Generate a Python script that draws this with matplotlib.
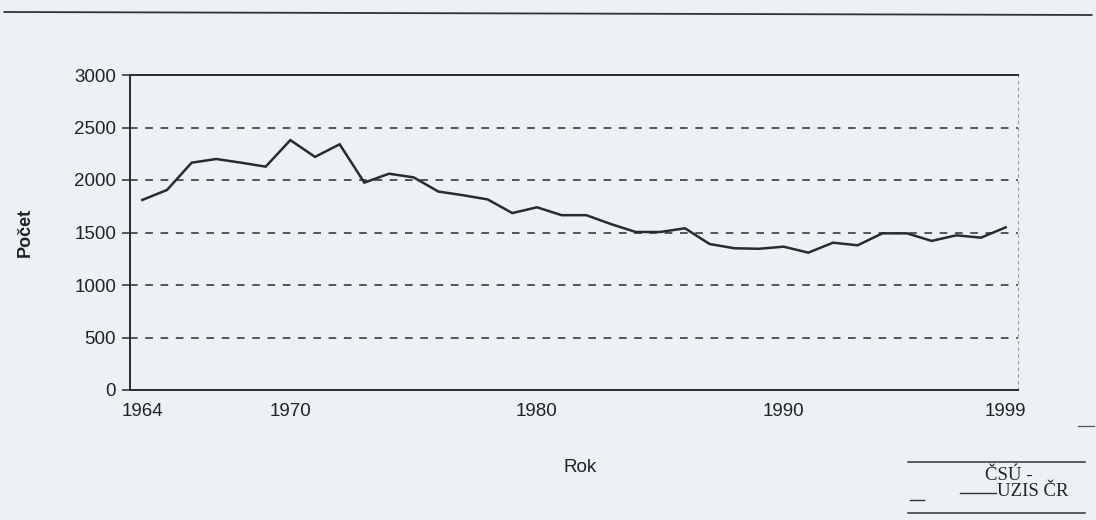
import matplotlib
matplotlib.use("Agg")
import matplotlib.pyplot as plt
from matplotlib.lines import Line2D

years = list(range(1964, 2000))
counts = [1810, 1905, 2165, 2200, 2165, 2127, 2380, 2220, 2340, 1975,
          2060, 2025, 1890, 1855, 1815, 1685, 1740, 1665, 1665, 1580,
          1505, 1505, 1540, 1390, 1350, 1345, 1365, 1308, 1403, 1378,
          1492, 1492, 1420, 1473, 1451, 1549]
xticks = [1964, 1970, 1980, 1990, 1999]
yticks = [0, 500, 1000, 1500, 2000, 2500, 3000]
xlabel = "Rok"
ylabel = "Počet"
source_lines = ["ČSÚ -", "UZIS ČR"]

bg = "#edf0f4"
ink = "#2b2b2b"
plt.rcParams['font.family'] = ['Liberation Sans', 'DejaVu Sans']

fig = plt.figure(figsize=(10.96, 5.2), dpi=100, facecolor=bg)
ax = fig.add_axes([130/1096, 1-390/520, 888/1096, 315/520], facecolor=bg)

ax.plot(years, counts, color=ink, lw=1.8, solid_joinstyle='miter')
ax.set_xlim(1963.5, 1999.5)
ax.set_ylim(0, 3000)
ax.set_yticks(yticks)
ax.set_xticks(xticks)
for y in yticks[1:-1]:
    ax.axhline(y, color=ink, lw=1.1, ls=(0, (5, 5)))
ax.tick_params(axis='y', length=6, width=1.1, color=ink, labelsize=13.5, labelcolor='#222222', pad=4)
ax.tick_params(axis='x', length=0, labelsize=13.5, labelcolor='#222222', pad=9)
for s in ['top', 'bottom', 'left']:
    ax.spines[s].set_color(ink)
    ax.spines[s].set_linewidth(1.4)
ax.spines['right'].set_color('#9a9a9a')
ax.spines['right'].set_linewidth(0.8)
ax.spines['right'].set_linestyle((0, (2, 4)))

fig.text(25/1096, 1-232/520, ylabel, rotation=90, ha='center', va='center',
         fontsize=13, fontweight='bold', color='#222222')
fig.text(580/1096, 1-468/520, xlabel, ha='center', va='center',
         fontsize=13.5, color='#222222')

# top rule of page
fig.add_artist(Line2D([0.004, 0.996], [1-12/520, 1-15/520], color='#333333', lw=1.3))

# source box
fig.add_artist(Line2D([908/1096, 1085/1096], [1-462/520]*2, color='#333333', lw=1.1))
fig.add_artist(Line2D([908/1096, 1085/1096], [1-513/520]*2, color='#333333', lw=1.1))
fig.add_artist(Line2D([960/1096, 996/1096], [1-493/520]*2, color='#333333', lw=1.0))
fig.add_artist(Line2D([910/1096, 924/1096], [1-500/520]*2, color='#333333', lw=1.0))
fig.add_artist(Line2D([1078/1096, 1094/1096], [1-426/520]*2, color='#555555', lw=0.9))
fig.text(985/1096, 1-476/520, source_lines[0], ha='left', va='center',
         fontsize=13.5, family=['Liberation Serif', 'DejaVu Serif'], color='#222222')
fig.text(997/1096, 1-492/520, source_lines[1], ha='left', va='center',
         fontsize=13.5, family=['Liberation Serif', 'DejaVu Serif'], color='#222222')

fig.savefig("out.png", dpi=100, facecolor=bg)
